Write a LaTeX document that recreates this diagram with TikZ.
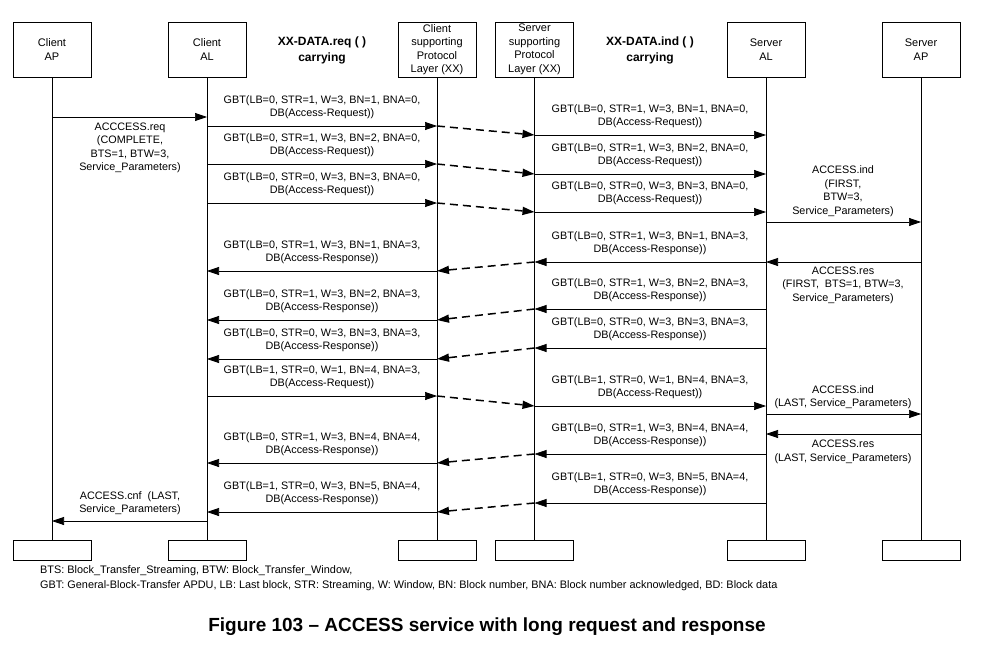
\documentclass[tikz,border=0pt]{standalone}
\usepackage{fontspec}
\setmainfont{Liberation Sans}
\usetikzlibrary{arrows.meta}
\tikzset{
  box/.style={draw, minimum width=78pt, minimum height=55pt, inner sep=1pt, align=center, font=\fontsize{11}{13.5}\selectfont},
  foot/.style={draw, minimum width=78pt, minimum height=20pt},
  life/.style={line width=0.7pt},
  msg/.style={-{Triangle[length=12pt,width=8pt]}, line width=0.7pt},
  relay/.style={msg, line width=1.5pt, dash pattern=on 8pt off 5pt},
  lbl/.style={align=center, font=\fontsize{10.8}{13.5}\selectfont, inner sep=0pt},
  hdr/.style={align=center, font=\bfseries\fontsize{12}{16}\selectfont}
}
\begin{document}
\begin{tikzpicture}[x=1pt,y=-1pt]
\useasboundingbox (0,0) rectangle (993,650);
% lifeline heads
\node[box] (cap) at (52,49.5) {Client\\AP};
\node[box] (cal) at (207,49.5) {Client\\AL};
\node[box] (cpl) at (437,49.5) {Client\\supporting\\Protocol\\Layer (XX)};
\node[box] (spl) at (534.5,49.5) {Server\\supporting\\Protocol\\Layer (XX)};
\node[box] (sal) at (766,49.5) {Server\\AL};
\node[box] (sap) at (921,49.5) {Server\\AP};
\node[hdr] at (322,50) {XX-DATA.req ( )\\carrying};
\node[hdr] at (650,50) {XX-DATA.ind ( )\\carrying};
% lifeline feet
\foreach \n in {cap,cal,cpl,spl,sal,sap} {
  \node[foot] (\n f) at (\n |- 0,550) {};
  \draw[life] (\n) -- (\n f);
}
% client request
\draw[msg] (cap |- 0,117) -- (cal |- 0,117);
\node[lbl] at (130,148) {ACCCESS.req\\(COMPLETE,\\BTS=1, BTW=3,\\Service\_Parameters)};
% request blocks
\foreach \ya/\yb/\str/\lb/\w/\bn in {126/135/1/0/3/1, 164/174/1/0/3/2, 203/212/0/0/3/3, 396/406/0/1/1/4} {
  \pgfmathtruncatemacro{\bna}{\bn==4 ? 3 : 0}
  \draw[msg] (cal |- 0,\ya) -- (cpl |- 0,\ya);
  \draw[relay] (cpl |- 0,\ya) -- (spl |- 0,\yb);
  \draw[msg] (spl |- 0,\yb) -- (sal |- 0,\yb);
  \node[lbl] at (322,\ya-19) {GBT(LB=\lb, STR=\str, W=\w, BN=\bn, BNA=\bna,\\DB(Access-Request))};
  \node[lbl] at (650,\yb-19) {GBT(LB=\lb, STR=\str, W=\w, BN=\bn, BNA=\bna,\\DB(Access-Request))};
}
% server indications / responses
\draw[msg] (sal |- 0,222) -- (sap |- 0,222);
\node[lbl] at (843,191) {ACCESS.ind\\(FIRST,\\BTW=3,\\Service\_Parameters)};
\draw[msg] (sap |- 0,262) -- (sal |- 0,262);
\node[lbl] at (843,285) {ACCESS.res\\(FIRST,\ \ BTS=1, BTW=3,\\Service\_Parameters)};
\draw[msg] (sal |- 0,414) -- (sap |- 0,414);
\node[lbl] at (843,397) {ACCESS.ind\\(LAST, Service\_Parameters)};
\draw[msg] (sap |- 0,434) -- (sal |- 0,434);
\node[lbl] at (843,452) {ACCESS.res\\(LAST, Service\_Parameters)};
% response blocks
\foreach \ya/\yb/\lb/\str/\bn/\bna in {262/271/0/1/1/3, 309/320/0/1/2/3, 348/359/0/0/3/3, 454/463/0/1/4/4, 503/512/1/0/5/4} {
  \draw[msg] (sal |- 0,\ya) -- (spl |- 0,\ya);
  \draw[relay] (spl |- 0,\ya) -- (cpl |- 0,\yb);
  \draw[msg] (cpl |- 0,\yb) -- (cal |- 0,\yb);
  \node[lbl] at (650,\ya-19) {GBT(LB=\lb, STR=\str, W=3, BN=\bn, BNA=\bna,\\DB(Access-Response))};
  \node[lbl] at (322,\yb-19) {GBT(LB=\lb, STR=\str, W=3, BN=\bn, BNA=\bna,\\DB(Access-Response))};
}
\draw[msg] (cal |- 0,521) -- (cap |- 0,521);
\node[lbl] at (130,503) {ACCESS.cnf\ \ (LAST,\\Service\_Parameters)};
% notes and caption
\node[lbl, align=left, anchor=north west, font=\fontsize{10.9}{15}\selectfont] at (40,565) {BTS: Block\_Transfer\_Streaming, BTW: Block\_Transfer\_Window,\\GBT: General-Block-Transfer APDU, LB: Last block, STR: Streaming, W: Window, BN: Block number, BNA: Block number acknowledged, BD: Block data};
\node[font=\bfseries\fontsize{19}{21}\selectfont] at (487,627) {Figure 103 -- ACCESS service with long request and response};
\end{tikzpicture}
\end{document}
